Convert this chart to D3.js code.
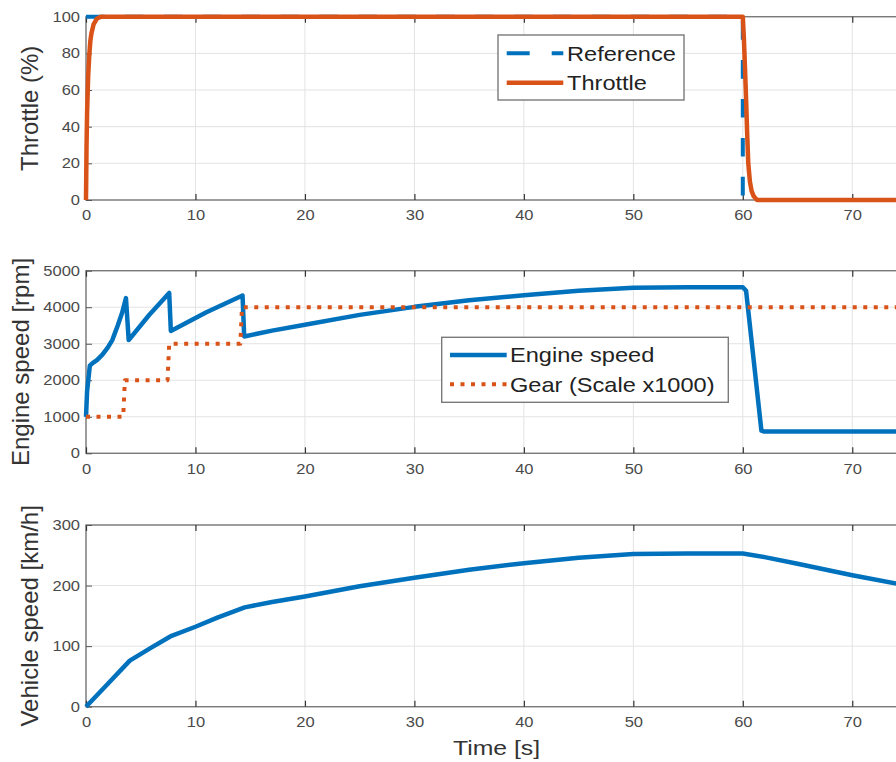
<!DOCTYPE html>
<html>
<head>
<meta charset="utf-8">
<script src="https://cdn.jsdelivr.net/npm/d3@7"></script>
<style>
  body { margin: 0; background: #fff; }
  svg { display: block; }
  text { font-family: "Liberation Sans", Arial, Helvetica, sans-serif; }
</style>
</head>
<body>
<svg id="chart" width="896" height="762"></svg>
<script>
// ---- data ----
const timeTicks = [0, 10, 20, 30, 40, 50, 60, 70];
const throttleTicks = [0, 20, 40, 60, 80, 100];
const rpmTicks = [0, 1000, 2000, 3000, 4000, 5000];
const kmhTicks = [0, 100, 200, 300];

// throttle reference (full demand from the start, released at 60 s)
const refTime = [0, 60, 60, 75];
const refPct  = [100, 100, 0, 0];

// actual throttle response
const throttleTime = [0, 0.05, 0.1, 0.2, 0.3, 0.4, 0.5, 0.7, 1.0, 1.4, 60, 60.1, 60.2, 60.3, 60.4, 60.5, 60.65, 60.8, 61, 61.3, 75];
const throttlePct  = [0, 30, 48, 68, 79, 87, 91, 96, 99, 100, 100, 88, 72, 55, 36, 20, 10, 5, 2, 0, 0];

// engine speed [rpm]
const engineTime = [0, 0.1, 0.35, 0.6, 1.0, 1.5, 2.0, 2.4, 2.9, 3.3, 3.65, 3.9, 5.75, 7.6, 7.75, 11, 14.3, 14.45, 17, 20, 25, 30, 35, 40, 45, 50, 55, 60, 60.3, 61.7, 61.9, 75];
const engineRpm  = [1000, 1700, 2400, 2470, 2550, 2700, 2900, 3100, 3500, 3850, 4250, 3100, 3780, 4390, 3350, 3860, 4320, 3200, 3360, 3520, 3790, 4010, 4190, 4330, 4450, 4530, 4545, 4545, 4450, 620, 600, 600];

// gear number (plotted x1000)
const gearTime = [0, 3.4, 3.55, 7.45, 7.6, 14.1, 14.25, 75];
const gearNum  = [1, 1, 2, 2, 3, 3, 4, 4];
const gearScale = 1000;

// vehicle speed [km/h]
const vehTime = [0, 2, 4, 6, 7.7, 10, 12, 14.5, 17, 20, 25, 30, 35, 40, 45, 50, 55, 60, 62, 65, 70, 75];
const vehKmh  = [0, 38, 76, 98, 116, 132, 147, 164, 173, 182, 199, 213, 226, 237, 246, 252, 253, 253, 247, 236, 217, 200];

// ---- styling ----
const BLUE = "#0072BD";
const ORANGE = "#D95319";
const BOX = "#7a7a7a";
const GRID = "#e3e3e3";
const TICKTXT = "#4a4a4a";
const LABEL = "#333333";
const SX = 1.18; // horizontal glyph stretch

const svg = d3.select("#chart");
const x = d3.scaleLinear().domain([0, 75]).range([86, 907]);

const panels = [
  { top: 16.7,  bottom: 200,   domain: [0, 100],  ticks: throttleTicks, label: "Throttle (%)",         labelX: 38 },
  { top: 270.7, bottom: 453.3, domain: [0, 5000], ticks: rpmTicks,      label: "Engine speed [rpm]",   labelX: 29 },
  { top: 525,   bottom: 706.7, domain: [0, 300],  ticks: kmhTicks,      label: "Vehicle speed [km/h]", labelX: 38 }
];

const zip = (a, b) => a.map((v, i) => [v, b[i]]);

panels.forEach(p => {
  p.y = d3.scaleLinear().domain(p.domain).range([p.bottom, p.top]);
  const g = svg.append("g");

  // grid
  g.append("g").selectAll("line").data(timeTicks).join("line")
    .attr("x1", d => x(d)).attr("x2", d => x(d))
    .attr("y1", p.top).attr("y2", p.bottom)
    .attr("stroke", GRID).attr("stroke-width", 1);
  g.append("g").selectAll("line").data(p.ticks).join("line")
    .attr("x1", x.range()[0]).attr("x2", x.range()[1])
    .attr("y1", d => p.y(d)).attr("y2", d => p.y(d))
    .attr("stroke", GRID).attr("stroke-width", 1);

  // box
  g.append("rect")
    .attr("x", x.range()[0]).attr("y", p.top)
    .attr("width", x.range()[1] - x.range()[0]).attr("height", p.bottom - p.top)
    .attr("fill", "none").attr("stroke", BOX).attr("stroke-width", 1.4);

  // bottom axis (ticks inward + labels)
  const ax = g.append("g").attr("transform", `translate(0,${p.bottom})`)
    .call(d3.axisBottom(x).tickValues(timeTicks).tickSizeInner(-6).tickSizeOuter(0).tickPadding(10.5).tickFormat(d3.format("d")));
  ax.select(".domain").remove();
  ax.selectAll(".tick line").attr("stroke", "#333").attr("stroke-width", 1.2);
  ax.selectAll(".tick text").attr("fill", TICKTXT).attr("font-size", 14)
    .style("font-family", "'Liberation Sans', Arial, sans-serif")
    .attr("transform", `scale(${SX},1)`);

  // top axis (ticks only)
  const at = g.append("g").attr("transform", `translate(0,${p.top})`)
    .call(d3.axisTop(x).tickValues(timeTicks).tickSizeInner(-6).tickSizeOuter(0).tickFormat(""));
  at.select(".domain").remove();
  at.selectAll(".tick line").attr("stroke", "#333").attr("stroke-width", 1.2);

  // left axis
  const ay = g.append("g").attr("transform", `translate(${x.range()[0]},0)`)
    .call(d3.axisLeft(p.y).tickValues(p.ticks).tickSizeInner(-6).tickSizeOuter(0).tickPadding(6).tickFormat(d3.format("d")));
  ay.select(".domain").remove();
  ay.selectAll(".tick line").attr("stroke", "#555").attr("stroke-width", 1);
  ay.selectAll(".tick text").attr("fill", TICKTXT).attr("font-size", 14)
    .style("font-family", "'Liberation Sans', Arial, sans-serif")
    .attr("x", -6 / SX)
    .attr("transform", `scale(${SX},1)`);

  // y label
  g.append("text")
    .attr("transform", `translate(${p.labelX},${(p.top + p.bottom) / 2}) rotate(-90)`)
    .attr("text-anchor", "middle")
    .attr("font-size", 24).attr("fill", LABEL)
    .text(p.label);
});

// ---- series ----
const [pT, pE, pV] = panels;

function drawLine(panel, xs, ys, color, width, dash, scaleY) {
  const k = scaleY || 1;
  const line = d3.line().x(d => x(d[0])).y(d => panel.y(d[1] * k));
  const path = svg.append("path")
    .datum(zip(xs, ys))
    .attr("d", line)
    .attr("fill", "none")
    .attr("stroke", color)
    .attr("stroke-width", width)
    .attr("stroke-linejoin", "round");
  if (dash) path.attr("stroke-dasharray", dash).attr("stroke-linecap", "butt");
  return path;
}

drawLine(pT, refTime, refPct, BLUE, 4, "18.6,20.3");
drawLine(pT, throttleTime, throttlePct, ORANGE, 4.5);

drawLine(pE, engineTime, engineRpm, BLUE, 4.5);
drawLine(pE, gearTime, gearNum, ORANGE, 4, "4,6.5", gearScale);

drawLine(pV, vehTime, vehKmh, BLUE, 4.5);

// x label
svg.append("text")
  .attr("transform", `translate(${(x.range()[0] + x.range()[1]) / 2},755) scale(${SX},1)`)
  .attr("text-anchor", "middle")
  .attr("font-size", 21).attr("fill", LABEL)
  .text("Time [s]");

// ---- legends ----
function legend(box, rows) {
  const g = svg.append("g");
  g.append("rect")
    .attr("x", box.x).attr("y", box.y).attr("width", box.w).attr("height", box.h)
    .attr("fill", "#fff").attr("stroke", BOX).attr("stroke-width", 1.4);
  rows.forEach(r => {
    const ln = g.append("line")
      .attr("x1", box.sx0).attr("x2", box.sx1).attr("y1", r.y).attr("y2", r.y)
      .attr("stroke", r.color).attr("stroke-width", r.width);
    if (r.dash) ln.attr("stroke-dasharray", r.dash);
    g.append("text")
      .attr("transform", `translate(${box.tx},${r.y + 7.2}) scale(${SX},1)`)
      .attr("font-size", 20).attr("fill", "#222")
      .text(r.text);
  });
}

legend({ x: 498, y: 35, w: 186, h: 65, sx0: 506.7, sx1: 563.3, tx: 567 }, [
  { y: 53.3, color: BLUE, width: 4, dash: "23,22", text: "Reference" },
  { y: 82.7, color: ORANGE, width: 4.5, text: "Throttle" }
]);

legend({ x: 441.7, y: 337.3, w: 286.6, h: 65, sx0: 450, sx1: 506.7, tx: 510 }, [
  { y: 355, color: BLUE, width: 4.5, text: "Engine speed" },
  { y: 384.3, color: ORANGE, width: 4, dash: "4,6.5", text: "Gear (Scale x1000)" }
]);
</script>
</body>
</html>
